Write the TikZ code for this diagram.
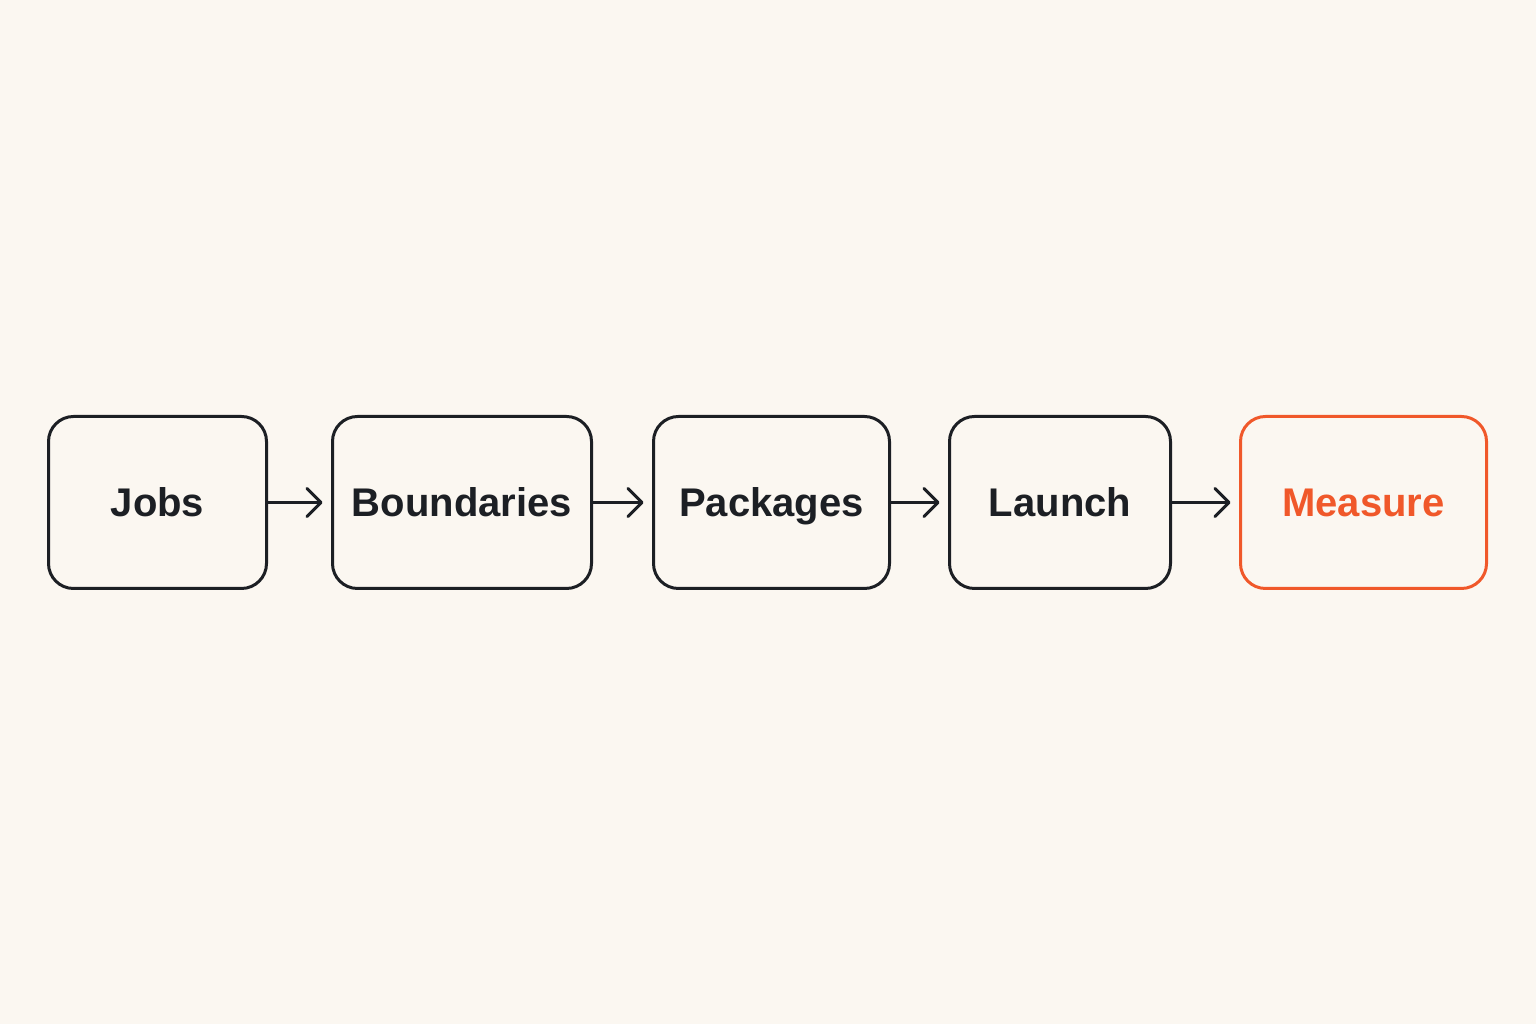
\documentclass[tikz,border=0pt]{standalone}
\usepackage{fontspec}
\setmainfont{Liberation Sans}
\usetikzlibrary{positioning}
\usetikzlibrary{arrows.meta}
\definecolor{mybg}{HTML}{FBF7F1}
\definecolor{mydark}{HTML}{1C1F24}
\definecolor{myorange}{HTML}{F0582A}
\tikzstyle{mybox}=[draw=#1,text=#1,line width=3pt,rounded corners=25pt,
                   minimum height=172pt,inner sep=0pt,outer sep=0pt,align=center,
                   text height=29pt,text depth=0pt,
                   font=\fontsize{40}{48}\selectfont\bfseries]
\tikzstyle{myarrow}=[-{Straight Barb[length=14pt,width=28pt,line cap=round,line join=round]},
                     mydark,line width=3pt,shorten >=10pt]

\begin{document}
\begin{tikzpicture}[x=1pt,y=1pt]
  \useasboundingbox[fill=mybg] (0,0) rectangle (1536,1024);

  % Jobs
  \node[mybox=mydark,minimum width=218pt] (jobs) at (157.5,521.5) {Jobs};

  % Boundaries
  \node[mybox=mydark,minimum width=259pt,right=66pt of jobs] (boundaries) {Boundaries};
  \draw[myarrow] (jobs) -- (boundaries);

  % Packages
  \node[mybox=mydark,minimum width=236pt,right=62pt of boundaries] (packages) {Packages};
  \draw[myarrow] (boundaries) -- (packages);

  % Launch
  \node[mybox=mydark,minimum width=221pt,right=60pt of packages] (launch) {Launch};
  \draw[myarrow] (packages) -- (launch);

  % Measure
  \node[mybox=myorange,minimum width=246pt,right=70pt of launch] (measure) {Measure};
  \draw[myarrow] (launch) -- (measure);

\end{tikzpicture}
\end{document}
